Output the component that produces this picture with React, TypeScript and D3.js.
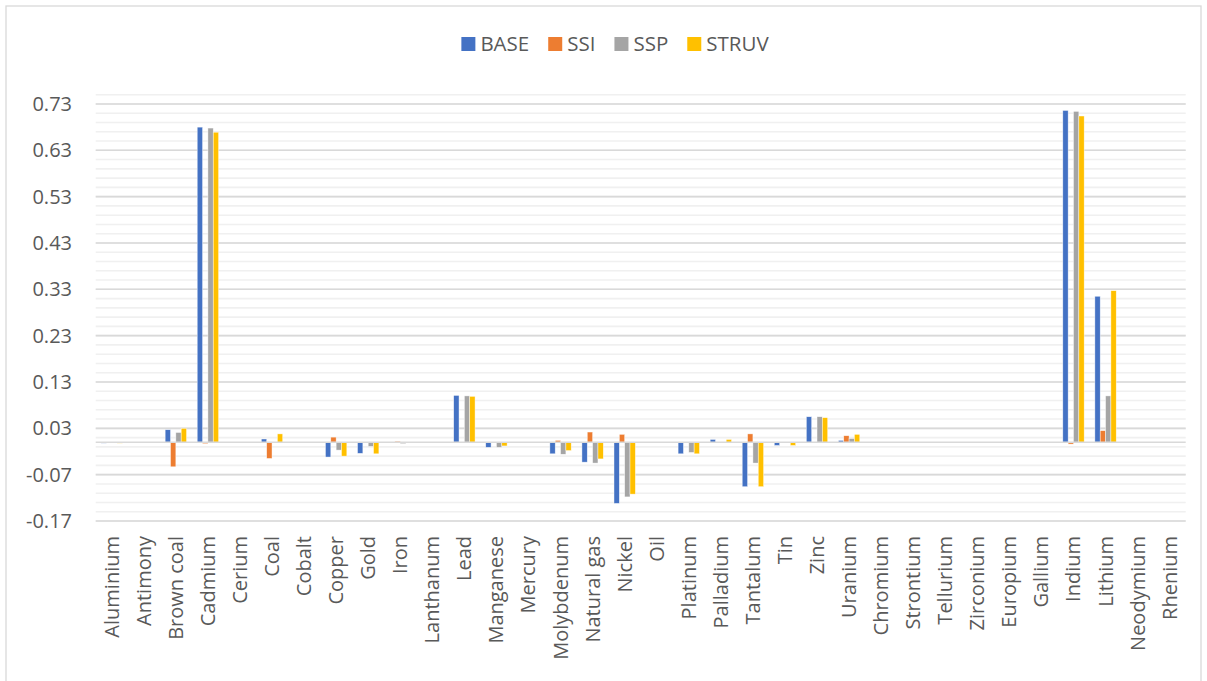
import React, { useEffect, useRef } from "react";
import * as d3 from "d3";

const categories = [
  "Aluminium", "Antimony", "Brown coal", "Cadmium", "Cerium", "Coal", "Cobalt",
  "Copper", "Gold", "Iron", "Lanthanum", "Lead", "Manganese", "Mercury",
  "Molybdenum", "Natural gas", "Nickel", "Oil", "Platinum", "Palladium",
  "Tantalum", "Tin", "Zinc", "Uranium", "Chromium", "Strontium", "Tellurium",
  "Zirconium", "Europium", "Gallium", "Indium", "Lithium", "Neodymium", "Rhenium",
];

const seriesNames = ["BASE", "SSI", "SSP", "STRUV"];
const seriesColors = ["#4472C4", "#ED7D31", "#A5A5A5", "#FFC000"];

const baseValues = [
  -0.002, 0, 0.027, 0.68, 0, 0.007, 0, -0.032, -0.024, -0.001, 0, 0.101, -0.011, 0,
  -0.025, -0.043, -0.132, 0, -0.025, 0.006, -0.096, -0.007, 0.055, 0.004, -0.001, 0, 0,
  0, 0, 0, 0.716, 0.315, 0, 0,
];
const ssiValues = [
  0, 0, -0.053, -0.003, 0, -0.035, 0, 0.011, 0, 0.002, 0, 0, 0, 0,
  0.004, 0.022, 0.017, 0, 0, 0, 0.018, 0, 0, 0.014, 0, 0, 0,
  0, 0, 0, -0.004, 0.025, 0, 0,
];
const sspValues = [
  0, 0, 0.021, 0.678, 0, 0, 0, -0.017, -0.009, -0.003, 0, 0.1, -0.011, 0,
  -0.026, -0.045, -0.118, -0.001, -0.022, 0, -0.045, -0.001, 0.055, 0.008, 0, 0, 0,
  0, 0, 0, 0.714, 0.1, 0, 0,
];
const struvValues = [
  -0.002, 0, 0.03, 0.669, 0, 0.018, 0, -0.03, -0.025, 0, 0, 0.099, -0.008, 0,
  -0.018, -0.036, -0.112, 0, -0.025, 0.006, -0.096, -0.007, 0.053, 0.017, -0.001, 0, 0,
  0, 0, 0, 0.704, 0.327, 0, 0,
];

const majorTicks = [-0.17, -0.07, 0.03, 0.13, 0.23, 0.33, 0.43, 0.53, 0.63, 0.73];
const minorStep = 0.02;
const yMin = -0.17;
const yMax = 0.75;

const W = 1207;
const H = 681;
const plot = { left: 95.7, right: 1185.7, top: 94.7, bottom: 521 };
const FONT = "'Open Sans', sans-serif";
const TEXT = "#595959";

export default function App() {
  const legendRef = useRef<SVGGElement>(null);

  const allValues = [baseValues, ssiValues, sspValues, struvValues];

  const x = d3.scaleBand<string>().domain(categories).range([plot.left, plot.right]).padding(0);
  const xs = d3
    .scaleBand<string>()
    .domain(seriesNames)
    .range([0, x.bandwidth()])
    .paddingInner(0)
    .paddingOuter(1);
  const y = d3.scaleLinear().domain([yMin, yMax]).range([plot.bottom, plot.top]);

  const minorTicks: number[] = [];
  for (let i = 0; ; i++) {
    const v = +(yMin + i * minorStep).toFixed(4);
    if (v > yMax + 1e-9) break;
    minorTicks.push(v);
  }

  useEffect(() => {
    const g = d3.select(legendRef.current);
    g.selectAll("*").remove();
    const items = g
      .selectAll("g")
      .data(seriesNames)
      .enter()
      .append("g");
    items
      .append("rect")
      .attr("width", 14)
      .attr("height", 14)
      .attr("y", -14)
      .attr("fill", (_d, i) => seriesColors[i]);
    items
      .append("text")
      .attr("x", 19)
      .attr("y", 0)
      .attr("font-family", FONT)
      .attr("font-size", 20.5)
      .attr("fill", TEXT)
      .text((d) => d);
    let offset = 0;
    const widths: number[] = [];
    items.each(function () {
      const t = d3.select(this).select("text").node() as SVGTextElement;
      widths.push(19 + t.getComputedTextLength());
    });
    const gap = 19;
    const total = d3.sum(widths) + gap * (widths.length - 1);
    const start = 615 - total / 2;
    items.attr("transform", (_d, i) => {
      const tx = start + offset;
      offset += widths[i] + gap;
      return `translate(${tx},51)`;
    });
  }, []);

  return (
    <svg
      width={W}
      height={H}
      style={{ position: "absolute", left: 0, top: 0, background: "#fff" }}
    >
      <rect x={6} y={6} width={1195} height={690} fill="#fff" stroke="#d9d9d9" strokeWidth={1.3} />

      {/* minor gridlines */}
      {minorTicks.map((t) => (
        <line
          key={"mi" + t}
          x1={plot.left}
          x2={plot.right}
          y1={y(t)}
          y2={y(t)}
          stroke="#f0f0f0"
          strokeWidth={1.6}
        />
      ))}
      {/* major gridlines */}
      {majorTicks.map((t) => (
        <line
          key={"ma" + t}
          x1={plot.left}
          x2={plot.right}
          y1={y(t)}
          y2={y(t)}
          stroke="#d9d9d9"
          strokeWidth={1.6}
        />
      ))}

      {/* y tick labels */}
      {majorTicks.map((t) => (
        <text
          key={"yl" + t}
          x={72}
          y={y(t)}
          dy="0.35em"
          textAnchor="end"
          fontFamily={FONT}
          fontSize={20}
          fill={TEXT}
        >
          {t.toFixed(2)}
        </text>
      ))}

      {/* bars */}
      {seriesNames.map((s, si) =>
        categories.map((c, ci) => {
          const v = allValues[si][ci];
          if (v === 0) return null;
          const x0 = (x(c) as number) + (xs(s) as number);
          const y0 = Math.min(y(0), y(v));
          const h = Math.abs(y(v) - y(0));
          return (
            <rect
              key={s + c}
              x={x0}
              y={y0}
              width={xs.bandwidth()}
              height={h}
              fill={seriesColors[si]}
              stroke="#fff"
              strokeWidth={0.6}
              strokeOpacity={0.7}
            />
          );
        })
      )}

      {/* zero axis */}
      <line x1={plot.left} x2={plot.right} y1={y(0)} y2={y(0)} stroke="#d9d9d9" strokeWidth={1.6} />

      {/* category labels */}
      {categories.map((c) => {
        const cx = (x(c) as number) + x.bandwidth() / 2;
        const cy = 536;
        return (
          <text
            key={"xl" + c}
            transform={`translate(${cx},${cy}) rotate(-90)`}
            dy="0.35em"
            textAnchor="end"
            fontFamily={FONT}
            fontSize={20}
            fill={TEXT}
          >
            {c}
          </text>
        );
      })}

      <g ref={legendRef} />
    </svg>
  );
}
